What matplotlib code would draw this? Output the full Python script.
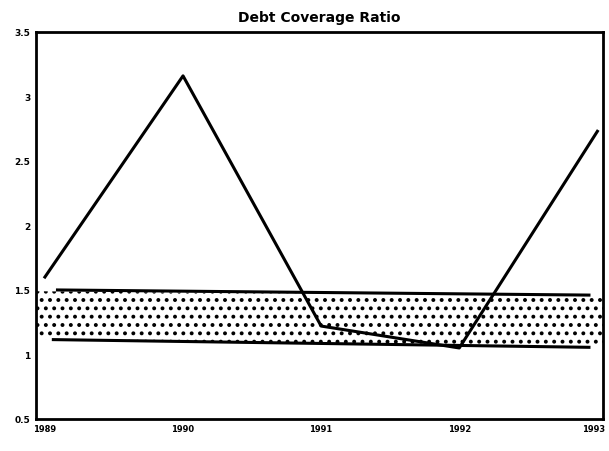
import matplotlib
matplotlib.use("Agg")
import matplotlib.pyplot as plt
import matplotlib.transforms as mtransforms

years = [1989, 1990, 1991, 1992, 1993]
ratio = [1.60, 3.16, 1.22, 1.05, 2.73]
band_upper = [1.50, 1.46]
band_lower = [1.115, 1.055]
ytick_vals = [0.5, 1, 1.5, 2, 2.5, 3, 3.5]
ytick_labels = ["0.5", "1", "1.5", "2", "2.5", "3", "3.5"]
title = "Debt Coverage Ratio"

plt.rcParams['font.family'] = ['DejaVu Sans']
plt.rcParams['hatch.color'] = 'black'
plt.rcParams['hatch.linewidth'] = 1.6

fig = plt.figure(figsize=(6.09, 4.52), dpi=100)
ax = fig.add_axes([0.059, 0.071, 0.931, 0.856])

band_x = [years[0] - 0.07, years[-1] + 0.05]
ax.fill_between(band_x, [v + 0.005 for v in band_lower], [v - 0.01 for v in band_upper],
                facecolor='white', edgecolor='none', hatch='..', linewidth=0)
ax.plot([years[0] + 0.08, years[-1] - 0.05], band_upper,
        color='black', lw=2.2, solid_capstyle='butt')
ax.plot([years[0] + 0.05, years[-1] - 0.05], band_lower,
        color='black', lw=2.2, solid_capstyle='butt')

ax.plot(years, ratio, color='black', lw=2.2)

ax.set_xlim(1988.935, 1993.04)
ax.set_ylim(0.5, 3.5)
ax.set_xticks(years)
ax.set_xticklabels([str(y) for y in years], fontsize=6, fontweight='bold')
ax.set_yticks(ytick_vals)
ax.set_yticklabels(ytick_labels, fontsize=6.5, fontweight='bold')
ax.tick_params(length=0, pad=4)
for s in ax.spines.values():
    s.set_linewidth(2.0)
ax.set_title(title, fontsize=10, fontweight='bold', pad=8)

last = ax.get_xticklabels()[-1]
last.set_transform(last.get_transform() + mtransforms.ScaledTranslation(-4/100, 0, fig.dpi_scale_trans))

fig.savefig("out.png", dpi=100)
